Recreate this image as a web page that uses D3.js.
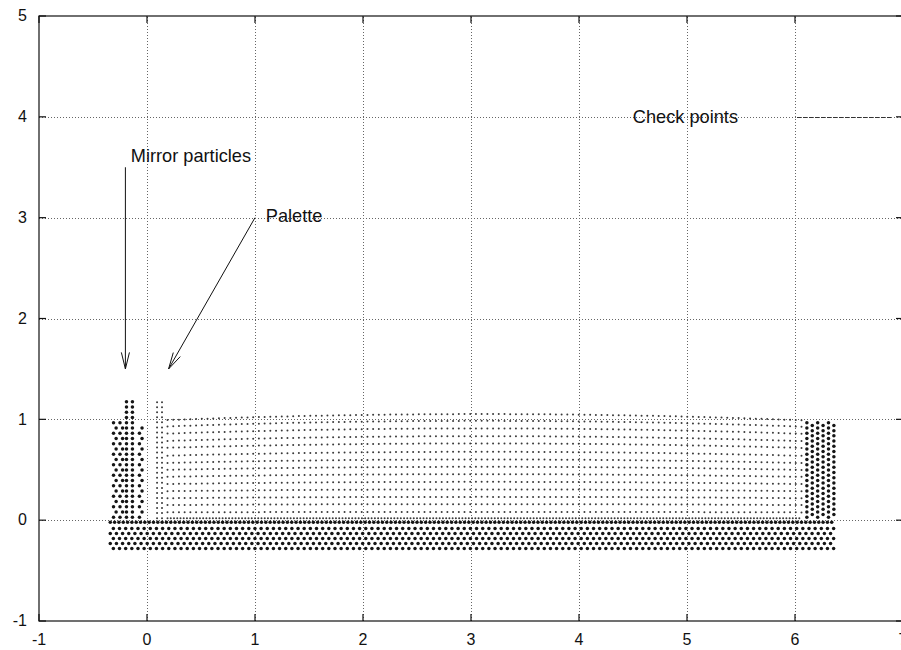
<!DOCTYPE html>
<html>
<head>
<meta charset="utf-8">
<script src="https://cdn.jsdelivr.net/npm/d3@7"></script>
<style>
  html, body { margin: 0; padding: 0; background: #fff; }
  svg { display: block; }
  text { font-family: "Liberation Sans", Arial, Helvetica, sans-serif; fill: #111; }
</style>
</head>
<body>
<svg id="chart" width="901" height="650"></svg>
<script>
// ---------------- data ----------------
const xTicks = [-1, 0, 1, 2, 3, 4, 5, 6, 7];
const yTicks = [-1, 0, 1, 2, 3, 4, 5];
const xDomain = [-1, 7];
const yDomain = [-1, 5];

// fluid particle rows: height of each row at mid-tank (x = 3.1)
const fluidRowY = [0.082, 0.159, 0.231, 0.305, 0.38, 0.456, 0.529, 0.602, 0.678, 0.761, 0.833, 0.91, 0.985, 1.052];
const fluidXRange = [0.19, 6.06];
const fluidSpacing = 0.053;
const fluidSurfaceSag = 0.06;          // fraction lower at the tank ends
const fluidBottomRowY = [0.018];       // dense row on the bed
const fluidBottomSpacing = 0.03;

// palette (paddle) particles
const paletteColX = [0.093, 0.139];
const paletteTop = 1.19;
const paletteSpacing = 0.05;

// bottom boundary (mirror) particle rows
const bedRowY = [-0.02, -0.083, -0.132, -0.182, -0.232, -0.282];
const bedRowSpacing = [0.04, 0.057, 0.057, 0.057, 0.057, 0.057];
const bedXRange = [-0.34, 6.37];

// left wall (mirror particles) columns and their top heights
const leftColX = [-0.31, -0.25, -0.19, -0.135, -0.07];
const leftColTop = [0.97, 0.99, 1.2, 1.2, 0.95];
const leftColStagger = [1, 1, 0, 0, 1];
const wallSpacing = 0.052;

// right wall columns
const rightColX = [6.11, 6.16, 6.21, 6.26, 6.31, 6.36];
const rightColTop = [0.99, 0.99, 0.99, 0.99, 0.99, 0.99];
const rightColStagger = [0, 1, 0, 1, 0, 1];

// annotations
const labels = [
  { text: "Mirror particles", x: -0.15, y: 3.6 },
  { text: "Palette", x: 1.1, y: 3.0 }
];
const arrows = [
  { x1: -0.2, y1: 3.5, x2: -0.2, y2: 1.5 },
  { x1: 1.0, y1: 3.0, x2: 0.2, y2: 1.5 }
];
const keyLabel = "Check points";

// ---------------- chart ----------------
const W = 901, H = 650;
const svg = d3.select("#chart");
svg.append("rect").attr("width", W).attr("height", H).attr("fill", "#fff");

const x = d3.scaleLinear().domain(xDomain).range([39, 903]);
const y = d3.scaleLinear().domain(yDomain).range([621, 16]);

// grid
const grid = svg.append("g").attr("stroke", "#666").attr("stroke-width", 1).attr("stroke-dasharray", "1,2");
grid.selectAll(".gx").data(xTicks.filter(t => t > xDomain[0] && t < xDomain[1])).join("line")
  .attr("x1", d => Math.round(x(d)) + 0.5).attr("x2", d => Math.round(x(d)) + 0.5)
  .attr("y1", y(yDomain[0])).attr("y2", y(yDomain[1]));
grid.selectAll(".gy").data(yTicks.filter(t => t > yDomain[0] && t < yDomain[1])).join("line")
  .attr("y1", d => Math.round(y(d)) + 0.5).attr("y2", d => Math.round(y(d)) + 0.5)
  .attr("x1", x(xDomain[0])).attr("x2", x(xDomain[1]));

// build particles
const small = [], big = [];
// fluid
fluidRowY.forEach(h => {
  const n = Math.round((fluidXRange[1] - fluidXRange[0]) / fluidSpacing);
  for (let i = 0; i <= n; i++) {
    const px = fluidXRange[0] + i * (fluidXRange[1] - fluidXRange[0]) / n;
    const u = (px - 3.1) / 3.0;
    small.push([px, h * (1 - fluidSurfaceSag * u * u)]);
  }
});
fluidBottomRowY.forEach(h => {
  for (let px = fluidXRange[0]; px <= fluidXRange[1]; px += fluidBottomSpacing) small.push([px, h]);
});
// palette
paletteColX.forEach(cx => {
  for (let py = 0.02; py <= paletteTop + 1e-6; py += paletteSpacing) small.push([cx, py]);
});
// bed
bedRowY.forEach((h, r) => {
  const s = bedRowSpacing[r];
  const off = (r % 2) ? s / 2 : 0;
  for (let px = bedXRange[0] + off; px <= bedXRange[1] + 1e-6; px += s) big.push([px, h]);
});
// left wall
leftColX.forEach((cx, c) => {
  for (let k = 0, py = 0.03; py <= leftColTop[c] + 1e-6; k++, py += wallSpacing) {
    const dx = leftColStagger[c] && (k % 2) ? 0.024 : 0;
    big.push([cx + dx, py]);
  }
});
// right wall
rightColX.forEach((cx, c) => {
  for (let py = 0.03 + (rightColStagger[c] ? wallSpacing / 2 : 0); py <= rightColTop[c] + 1e-6; py += wallSpacing) big.push([cx, py]);
});

svg.append("g").selectAll("circle").data(small).join("circle")
  .attr("cx", d => x(d[0])).attr("cy", d => y(d[1])).attr("r", 1.0).attr("fill", "#3a3a3a");
svg.append("g").selectAll("circle").data(big).join("circle")
  .attr("cx", d => x(d[0])).attr("cy", d => y(d[1])).attr("r", 1.75).attr("fill", "#151515");

// frame
const frame = svg.append("g").attr("stroke", "#111").attr("stroke-width", 1.2).attr("fill", "none");
frame.append("rect").attr("x", x(xDomain[0])).attr("y", y(yDomain[1]))
  .attr("width", x(xDomain[1]) - x(xDomain[0])).attr("height", y(yDomain[0]) - y(yDomain[1]));
const tl = 7;
xTicks.forEach(t => {
  frame.append("line").attr("x1", x(t)).attr("x2", x(t)).attr("y1", y(yDomain[0])).attr("y2", y(yDomain[0]) - tl);
  frame.append("line").attr("x1", x(t)).attr("x2", x(t)).attr("y1", y(yDomain[1])).attr("y2", y(yDomain[1]) + tl);
});
yTicks.forEach(t => {
  frame.append("line").attr("y1", y(t)).attr("y2", y(t)).attr("x1", x(xDomain[0])).attr("x2", x(xDomain[0]) + tl);
  frame.append("line").attr("y1", y(t)).attr("y2", y(t)).attr("x1", x(xDomain[1])).attr("x2", x(xDomain[1]) - tl);
});

// tick labels
svg.append("g").selectAll("text").data(yTicks).join("text")
  .attr("x", 27).attr("y", d => y(d) + 1).attr("text-anchor", "end").attr("dominant-baseline", "middle")
  .attr("font-size", 16).text(d => d);
svg.append("g").selectAll("text").data(xTicks).join("text")
  .attr("x", d => x(d)).attr("y", 641).attr("text-anchor", "middle").attr("dominant-baseline", "middle")
  .attr("font-size", 16).text(d => d);

// annotations
svg.append("g").selectAll("text").data(labels).join("text")
  .attr("x", d => x(d.x)).attr("y", d => y(d.y)).attr("dominant-baseline", "middle")
  .attr("font-size", 18.2).text(d => d.text);

const ag = svg.append("g").attr("stroke", "#111").attr("stroke-width", 1).attr("fill", "none");
arrows.forEach(a => {
  const X1 = x(a.x1), Y1 = y(a.y1), X2 = x(a.x2), Y2 = y(a.y2);
  ag.append("line").attr("x1", X1).attr("y1", Y1).attr("x2", X2).attr("y2", Y2);
  const ang = Math.atan2(Y2 - Y1, X2 - X1), L = 17, spread = 0.24;
  ag.append("path").attr("d",
    `M${X2 - L * Math.cos(ang - spread)},${Y2 - L * Math.sin(ang - spread)}L${X2},${Y2}L${X2 - L * Math.cos(ang + spread)},${Y2 - L * Math.sin(ang + spread)}`);
});

// key
svg.append("text").attr("x", 738).attr("y", y(4) + 1).attr("text-anchor", "end")
  .attr("dominant-baseline", "middle").attr("font-size", 18.2).text(keyLabel);
svg.append("line").attr("x1", 797).attr("x2", 893).attr("y1", Math.round(y(4)) + 0.5).attr("y2", Math.round(y(4)) + 0.5)
  .attr("stroke", "#333").attr("stroke-width", 1).attr("stroke-dasharray", "4,2");
</script>
</body>
</html>
